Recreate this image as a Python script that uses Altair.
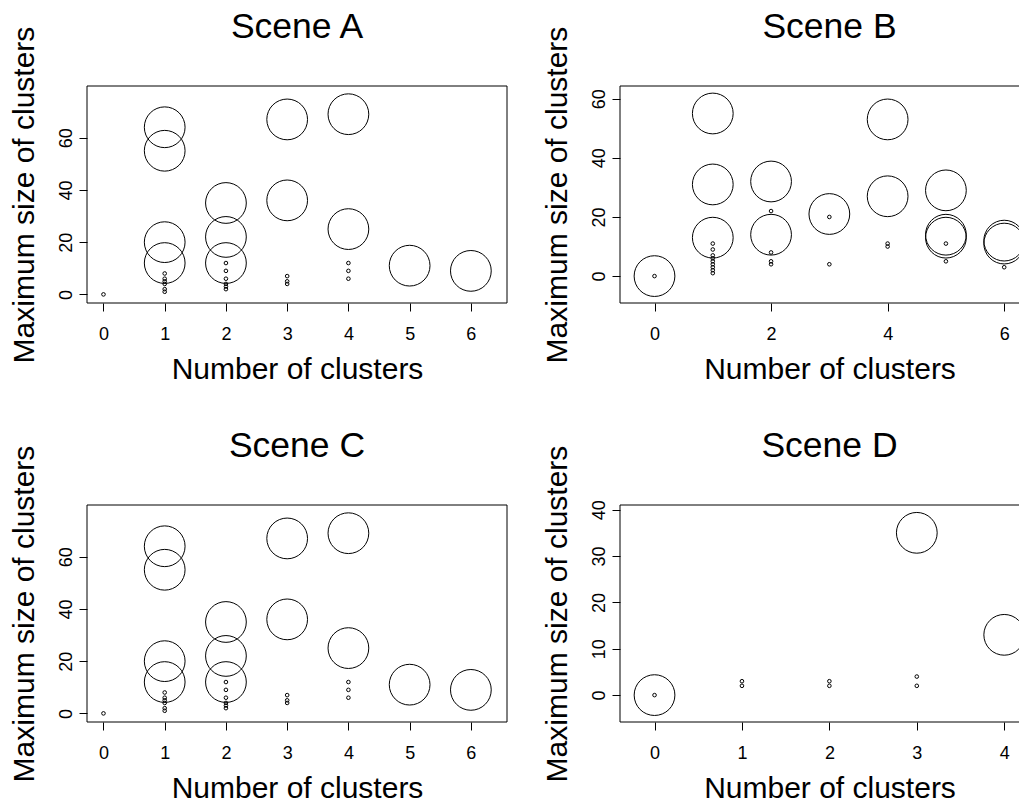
import altair as alt
import pandas as pd

# ---- data ----
A_big_x = [1, 1, 1, 1, 2, 2, 2, 3, 3, 4, 4, 5, 6]
A_big_y = [64, 55, 20, 12, 35, 22, 12, 67, 36, 69, 25, 11, 9]
A_small_x = [0, 1, 1, 1, 1, 1, 1, 2, 2, 2, 2, 2, 2, 3, 3, 3, 4, 4, 4]
A_small_y = [0, 8, 6, 5, 4, 2, 1, 12, 9, 6, 4, 3, 2, 7, 5, 4, 12, 9, 6]

B_big_x = [0, 1, 1, 1, 2, 2, 3, 4, 4, 5, 5, 5, 6, 6]
B_big_y = [0, 55, 31, 13, 32, 14, 21, 53, 27, 29, 14, 13, 12, 11]
B_small_x = [0, 1, 1, 1, 1, 1, 1, 1, 1, 1, 2, 2, 2, 2, 3, 3, 4, 4, 5, 5, 6]
B_small_y = [0, 11, 9, 7, 6, 5, 4, 3, 2, 1, 22, 8, 5, 4, 20, 4, 11, 10, 11, 5, 3]

C_big_x = A_big_x
C_big_y = A_big_y
C_small_x = A_small_x
C_small_y = A_small_y

D_big_x = [0, 3, 4]
D_big_y = [0, 35, 13]
D_small_x = [0, 1, 1, 2, 2, 3, 3]
D_small_y = [0, 3, 2, 3, 2, 4, 2]

titles = ["Scene A", "Scene B", "Scene C", "Scene D"]
x_title = "Number of clusters"
y_title = "Maximum size of clusters"

FONT = "Liberation Sans"
H = 217
WL = 420   # left column panels
WR = 399   # right column panels (cut off at the window edge, as in the reference)


def frame(w, h, right_side):
    one = pd.DataFrame({"v": [0]})
    r = alt.Chart(one).mark_rule(color="black", strokeWidth=1)
    parts = [
        r.encode(x=alt.value(0), x2=alt.value(w), y=alt.value(0)),
        r.encode(x=alt.value(0), x2=alt.value(w), y=alt.value(h)),
        r.encode(x=alt.value(0), y=alt.value(0), y2=alt.value(h)),
    ]
    if right_side:
        parts.append(r.encode(x=alt.value(w), y=alt.value(0), y2=alt.value(h)))
    return parts


def panel(title, bx, by, sx, sy, xdom, ydom, xticks, yticks, w, right_side, shift):
    df = pd.DataFrame({
        "x": bx + sx,
        "y": by + sy,
        "kind": ["big"] * len(bx) + ["small"] * len(sx),
    })
    xaxis = dict(values=xticks, title=x_title, format="d",
                 labelPadding=14, titlePadding=11)
    if shift:
        xaxis["titleX"] = w / 2 + shift
    xenc = alt.X("x:Q", scale=alt.Scale(domain=xdom, nice=False, zero=False),
                 axis=alt.Axis(**xaxis))
    yenc = alt.Y("y:Q", scale=alt.Scale(domain=ydom, nice=False, zero=False),
                 axis=alt.Axis(values=yticks, title=y_title, format="d",
                               labelAngle=-90, labelAlign="center",
                               labelBaseline="bottom", labelPadding=4,
                               titlePadding=18))
    base = alt.Chart(df)
    big = base.transform_filter(alt.datum.kind == "big").mark_point(
        shape="circle", filled=False, color="black", strokeWidth=1,
        opacity=1, size=1660, clip=True
    ).encode(x=xenc, y=yenc)
    small = base.transform_filter(alt.datum.kind == "small").mark_point(
        shape="circle", filled=False, color="black", strokeWidth=1,
        opacity=1, size=13, clip=True
    ).encode(x=xenc, y=yenc)
    return alt.layer(big, small, *frame(w, H, right_side)).properties(
        width=w, height=H,
        title=alt.TitleParams(title, fontSize=35.5, font=FONT, fontWeight="normal",
                              anchor="middle", color="black", baseline="alphabetic",
                              offset=0, dy=47.5, dx=shift),
    )


pA = panel(titles[0], A_big_x, A_big_y, A_small_x, A_small_y,
           [-0.269, 6.590], [-3.3, 79.8], [0, 1, 2, 3, 4, 5, 6], [0, 20, 40, 60],
           WL, True, 0)
pB = panel(titles[1], B_big_x, B_big_y, B_small_x, B_small_y,
           [-0.592, 6.254], [-9.1, 64.3], [0, 2, 4, 6], [0, 20, 40, 60],
           WR, False, 10)
pC = panel(titles[2], C_big_x, C_big_y, C_small_x, C_small_y,
           [-0.269, 6.590], [-3.3, 79.8], [0, 1, 2, 3, 4, 5, 6], [0, 20, 40, 60],
           WL, True, 0)
pD = panel(titles[3], D_big_x, D_big_y, D_small_x, D_small_y,
           [-0.395, 4.169], [-5.8, 41.0], [0, 1, 2, 3, 4], [0, 10, 20, 30, 40],
           WR, False, 10)

chart = alt.vconcat(
    alt.hconcat(pA, pB, spacing=113, bounds="flush"),
    alt.hconcat(pC, pD, spacing=113, bounds="flush"),
    spacing=419, bounds="flush",
).properties(
    padding={"left": 0, "top": 2, "right": 0, "bottom": 0},
    background="white",
).configure_view(
    strokeOpacity=0
).configure_axis(
    domain=False, grid=False, tickColor="black", tickSize=8, tickWidth=1,
    labelFont=FONT, labelFontSize=18, labelColor="black",
    titleFont=FONT, titleFontSize=30, titleFontWeight="normal", titleColor="black",
)

chart.save("out.html", embed_options={"renderer": "svg", "actions": False})
